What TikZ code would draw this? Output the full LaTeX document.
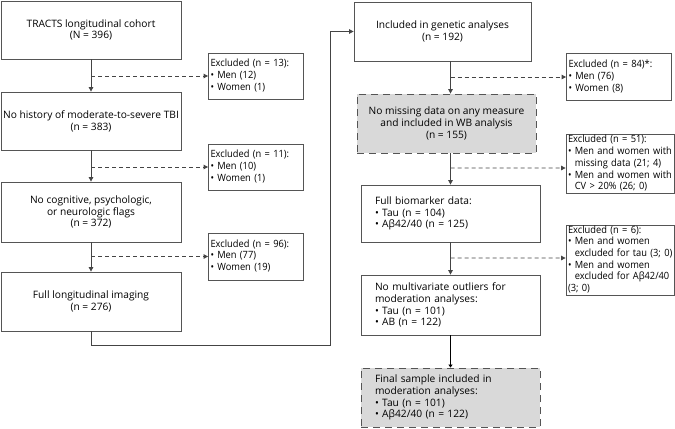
\documentclass[tikz,border=0pt]{standalone}
\usepackage{fontspec}
\setmainfont{Open Sans}
\newfontfamily\exfont{Open Sans}[FakeStretch=0.93]
\usetikzlibrary{arrows.meta}
\definecolor{boxline}{HTML}{555555}
\definecolor{arrline}{HTML}{444444}
\definecolor{boxfill}{HTML}{D9D9D9}
\newcommand{\bl}{•\ }
\newcommand{\ind}{\hphantom{•\ }}
\newcommand{\exlines}[1]{\begin{tabular}{@{}l@{}}#1\end{tabular}}
\begin{document}
\begin{tikzpicture}[x=1bp,y=-1bp,
  font=\fontsize{10.2bp}{11.8bp}\selectfont,
  box/.style={draw=boxline, line width=0.8bp, fill=white, inner sep=0pt, align=center},
  lbox/.style={box, align=left, inner xsep=14bp},
  exbox/.style={draw=boxline, line width=0.8bp, fill=white, align=left, inner xsep=2bp, inner ysep=0pt,
    font=\exfont\fontsize{10bp}{11.7bp}\selectfont},
  greybox/.style={fill=boxfill, dash pattern=on 7bp off 5bp},
  arr/.style={draw=arrline, line width=0.8bp, -{Triangle[length=4.5bp,width=4.5bp]}},
  darr/.style={arr, dash pattern=on 4bp off 3bp},
  tarr/.style={draw=black, line width=1.8bp, -{Triangle[length=3bp,width=4bp]}}
]
\useasboundingbox (0,0) rectangle (675,428);

% left column
\node[box, minimum width=180bp, minimum height=58bp] (b1) at (91,30) {TRACTS longitudinal cohort\\(N = 396)};
\node[box, minimum width=180bp, minimum height=58bp] (b2) at (91,121) {No history of moderate-to-severe TBI\\(n = 383)};
\node[box, minimum width=180bp, minimum height=60bp] (b3) at (91,212) {No cognitive, psychologic,\\or neurologic flags\\(n = 372)};
\node[box, minimum width=180bp, minimum height=59bp] (b4) at (91,301.5) {Full longitudinal imaging\\(n = 276)};

\node[exbox, text width=91bp, minimum height=46bp] (e1) at (256,76) {\exlines{Excluded (n = 13):\\\bl Men (12)\\\bl Women (1)}};
\node[exbox, text width=91bp, minimum height=46bp] (e2) at (256,167) {\exlines{Excluded (n = 11):\\\bl Men (10)\\\bl Women (1)}};
\node[exbox, text width=91bp, minimum height=47bp] (e3) at (256,256.5) {\exlines{Excluded (n = 96):\\\bl Men (77)\\\bl Women (19)}};

\draw[arr] (b1) -- (b2);
\draw[arr] (b2) -- (b3);
\draw[arr] (b3) -- (b4);
\draw[darr] (b1.south |- e1.west) -- (e1.west);
\draw[darr] (b2.south |- e2.west) -- (e2.west);
\draw[darr] (b3.south |- e3.west) -- (e3.west);

% right column
\node[box, minimum width=177bp, minimum height=59bp] (r1) at (442.5,31.5) {Included in genetic analyses\\(n = 192)};
\node[box, greybox, minimum width=179bp, minimum height=59bp] (r2) at (446.5,123.5) {No missing data on any measure\\and included in WB analysis\\(n = 155)};
\node[lbox, text width=151bp, minimum height=57bp] (r3) at (450.5,213.5) {Full biomarker data:\\\bl Tau (n = 104)\\\bl Aβ42/40 (n = 125)};
\node[lbox, text width=151bp, minimum height=60bp] (r4) at (450.5,305) {No multivariate outliers for\\moderation analyses:\\\bl Tau (n = 101)\\\bl AB (n = 122)};
\node[lbox, greybox, text width=151bp, minimum height=59bp] (r5) at (450.5,397.5) {Final sample included in\\moderation analyses:\\\bl Tau (n = 101)\\\bl Aβ42/40 (n = 122)};

\node[exbox, text width=101bp, minimum height=47bp] (er1) at (619,77) {\exlines{Excluded (n = 84)*:\\\bl Men (76)\\\bl Women (8)}};
\node[exbox, text width=104bp, minimum height=58bp] (er2) at (620,164) {\exlines{Excluded (n = 51):\\\bl Men and women with\\\ind missing data (21; 4)\\\bl Men and women with\\\ind CV > 20\% (26; 0)}};
\node[exbox, text width=104bp, minimum height=70bp] (er3) at (620,260) {\exlines{Excluded (n = 6):\\\bl Men and women\\\ind excluded for tau (3; 0)\\\bl Men and women\\\ind excluded for Aβ42/40\\(3; 0)}};

\draw[arr] (b4.south) |- (330,345) |- (r1.west);
\draw[arr] (r1.south -| r3.north) -- (r2.north -| r3.north);
\draw[arr] (r2.south -| r3.north) -- (r3.north);
\draw[arr] (r3) -- (r4);
\draw[tarr] (r4) -- (r5);
\draw[darr] (r3.north |- er1.west) -- (er1.west);
\draw[darr] (r3.north |- er2.west) ++(0,4) -- ([yshift=-4bp]er2.west);
\draw[darr] (r3.north |- er3.west) ++(0,-2) -- ([yshift=2bp]er3.west);
\end{tikzpicture}
\end{document}
